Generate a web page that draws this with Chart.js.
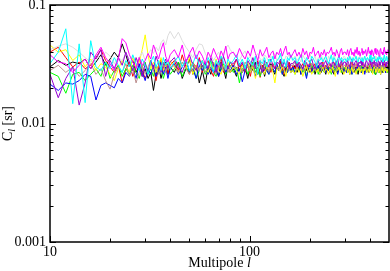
<!DOCTYPE html>
<html><head><meta charset="utf-8">
<script src="https://cdn.jsdelivr.net/npm/chart.js@4/dist/chart.umd.min.js"></script>
<style>html,body{margin:0;padding:0;background:#fff}#wrap{width:390px;height:271px}</style>
</head><body><div id="wrap"><canvas id="c" width="390" height="271"></canvas></div>
<script>
// Multipole l values (x categories)
const multipoles = [
  10,11,12,13,14,15,16,17,18,19,20,21,22,23,24,25,26,27,28,29,30,31,32,33,34,35,36,37,38,39,40,
  42,44,46,48,50,52,54,56,58,60,62,64,66,68,70,72,74,76,78,80,
  83,86,89,92,95,98,101,104,107,110,113,116,119,122,125,128,131,134,137,140,143,146,149,152,155,158,161,
  165,169,173,177,181,185,189,193,197,201,205,209,213,217,221,225,229,233,237,241,245,249,253,257,261,265,269,273,277,281,285,289,293,297,
  302,306,310,314,318,322,326,330,334,338,342,346,350,354,358,362,366,370,374,378,382,386,390,394,398,402,406,410,414,418,422,426,430,434,438,442,446,450,454,458,462,466,470,474,478,482,486,490,494,498
];
// C_l [sr] per series
const clBlack = [
  0.030,0.034,0.031,0.033,0.032,0.035,0.029,0.033,0.038,0.031,0.035,0.040,0.036,0.047,0.038,0.030,0.034,0.027,0.031,0.025,0.029,0.024,0.027,0.019,0.026,0.031,0.024,0.029,0.033,0.026,0.030,
  0.027,0.033,0.024,0.029,0.035,0.026,0.031,0.022,0.028,0.0215,0.030,0.026,0.032,0.028,0.025,0.033,0.029,0.024,0.031,0.027,
  0.029,0.025,0.032,0.027,0.030,0.024,0.031,0.028,0.033,0.026,0.029,0.031,0.025,0.030,0.027,0.032,0.028,0.026,0.030,0.029,0.033,0.027,0.025,0.030,0.028,0.031,0.027,
  0.028,0.031,0.027,0.030,0.026,0.029,0.032,0.028,0.030,0.027,0.029,0.031,0.026,0.029,0.028,0.031,0.027,0.030,0.028,0.026,0.030,0.029,0.027,0.031,0.028,0.026,0.029,0.030,0.027,0.029,0.031,0.028,0.026,0.029,
  0.029,0.027,0.030,0.028,0.026,0.029,0.031,0.028,0.027,0.030,0.028,0.029,0.026,0.030,0.028,0.027,0.029,0.031,0.028,0.027,0.029,0.028,0.030,0.027,0.028,0.030,0.028,0.027,0.029,0.031,0.028,0.026,0.029,0.028,0.030,0.027,0.029,0.028,0.026,0.030,0.029,0.027,0.028,0.030,0.029,0.027,0.028,0.029,0.031,0.028
];
const clRed = [
  0.040,0.044,0.036,0.030,0.033,0.029,0.031,0.036,0.042,0.034,0.030,0.027,0.031,0.022,0.029,0.033,0.025,0.030,0.036,0.028,0.024,0.027,0.033,0.029,0.023,0.030,0.035,0.028,0.032,0.026,0.031,
  0.034,0.028,0.038,0.030,0.026,0.033,0.029,0.036,0.027,0.031,0.034,0.028,0.025,0.032,0.030,0.036,0.027,0.031,0.029,0.033,
  0.030,0.035,0.028,0.032,0.027,0.031,0.025,0.033,0.029,0.034,0.0245,0.031,0.028,0.033,0.030,0.027,0.032,0.029,0.031,0.028,0.034,0.029,0.026,0.031,0.030,0.033,0.028,
  0.031,0.029,0.033,0.028,0.030,0.032,0.027,0.031,0.029,0.034,0.028,0.030,0.032,0.029,0.031,0.027,0.030,0.033,0.029,0.031,0.028,0.030,0.032,0.029,0.027,0.031,0.033,0.030,0.028,0.031,0.029,0.032,0.030,0.028,
  0.030,0.032,0.029,0.031,0.028,0.030,0.033,0.029,0.031,0.030,0.028,0.032,0.030,0.029,0.031,0.028,0.030,0.032,0.029,0.031,0.030,0.028,0.031,0.029,0.030,0.032,0.028,0.031,0.030,0.029,0.033,0.030,0.028,0.031,0.029,0.030,0.032,0.029,0.031,0.028,0.030,0.031,0.029,0.032,0.030,0.028,0.031,0.030,0.029,0.031
];
const clGreen = [
  0.027,0.025,0.018,0.026,0.027,0.023,0.026,0.029,0.025,0.033,0.024,0.028,0.031,0.025,0.029,0.026,0.031,0.027,0.024,0.030,0.033,0.026,0.029,0.025,0.031,0.027,0.030,0.024,0.028,0.032,0.026,
  0.029,0.033,0.025,0.030,0.027,0.032,0.024,0.028,0.031,0.026,0.029,0.034,0.027,0.025,0.030,0.028,0.032,0.026,0.029,0.031,
  0.027,0.030,0.022,0.029,0.031,0.026,0.029,0.033,0.027,0.030,0.025,0.029,0.032,0.028,0.026,0.030,0.029,0.027,0.031,0.028,0.032,0.026,0.029,0.031,0.027,0.030,0.028,
  0.029,0.026,0.030,0.028,0.031,0.027,0.029,0.025,0.030,0.028,0.032,0.027,0.029,0.030,0.026,0.029,0.031,0.028,0.027,0.030,0.029,0.028,0.030,0.026,0.031,0.028,0.029,0.027,0.030,0.032,0.028,0.027,0.029,0.030,
  0.028,0.030,0.027,0.029,0.031,0.028,0.026,0.029,0.030,0.028,0.029,0.027,0.030,0.029,0.028,0.031,0.027,0.029,0.028,0.030,0.029,0.027,0.029,0.028,0.030,0.031,0.028,0.027,0.029,0.030,0.028,0.026,0.029,0.031,0.028,0.029,0.027,0.030,0.028,0.029,0.031,0.028,0.027,0.030,0.029,0.028,0.030,0.027,0.029,0.028
];
const clBlue = [
  0.0215,0.019,0.022,0.0215,0.023,0.026,0.025,0.0158,0.021,0.022,0.021,0.020,0.024,0.022,0.027,0.025,0.029,0.024,0.032,0.027,0.023,0.029,0.026,0.031,0.025,0.028,0.033,0.026,0.030,0.024,0.029,
  0.032,0.026,0.030,0.035,0.027,0.029,0.024,0.031,0.028,0.033,0.026,0.030,0.027,0.032,0.025,0.029,0.031,0.027,0.030,0.028,
  0.031,0.026,0.029,0.0225,0.028,0.032,0.027,0.030,0.025,0.029,0.033,0.027,0.030,0.028,0.026,0.031,0.029,0.027,0.032,0.028,0.030,0.026,0.029,0.031,0.027,0.030,0.028,
  0.030,0.027,0.029,0.032,0.026,0.030,0.028,0.024,0.029,0.031,0.027,0.030,0.028,0.029,0.031,0.026,0.030,0.028,0.029,0.027,0.031,0.028,0.029,0.030,0.027,0.029,0.032,0.028,0.026,0.030,0.029,0.028,0.030,0.027,
  0.029,0.027,0.030,0.028,0.031,0.029,0.026,0.030,0.028,0.029,0.027,0.030,0.029,0.028,0.031,0.027,0.029,0.030,0.028,0.026,0.029,0.030,0.028,0.029,0.027,0.030,0.028,0.031,0.029,0.027,0.028,0.030,0.029,0.027,0.031,0.028,0.029,0.030,0.028,0.027,0.029,0.031,0.028,0.030,0.029,0.027,0.028,0.030,0.029,0.028
];
const clYellow = [
  0.046,0.040,0.042,0.034,0.038,0.030,0.035,0.028,0.032,0.030,0.026,0.023,0.029,0.034,0.031,0.027,0.036,0.030,0.033,0.042,0.056,0.038,0.029,0.033,0.027,0.031,0.036,0.028,0.032,0.029,0.034,
  0.030,0.027,0.033,0.029,0.036,0.026,0.031,0.028,0.034,0.030,0.027,0.032,0.029,0.035,0.028,0.026,0.031,0.029,0.033,0.027,
  0.030,0.028,0.026,0.031,0.029,0.033,0.027,0.030,0.024,0.029,0.032,0.028,0.026,0.030,0.028,0.031,0.027,0.022,0.029,0.030,0.027,0.031,0.028,0.025,0.030,0.029,0.027,
  0.028,0.026,0.030,0.027,0.029,0.025,0.028,0.031,0.027,0.029,0.026,0.028,0.030,0.027,0.029,0.026,0.028,0.030,0.027,0.029,0.028,0.026,0.029,0.027,0.030,0.028,0.025,0.029,0.028,0.030,0.027,0.029,0.028,0.026,
  0.028,0.030,0.027,0.029,0.026,0.028,0.030,0.027,0.029,0.028,0.026,0.029,0.028,0.030,0.027,0.029,0.028,0.026,0.029,0.028,0.030,0.027,0.028,0.029,0.027,0.030,0.028,0.029,0.026,0.028,0.030,0.029,0.027,0.028,0.030,0.027,0.029,0.028,0.026,0.029,0.030,0.028,0.027,0.029,0.028,0.030,0.027,0.028,0.029,0.027
];
const clBrown = [
  0.028,0.031,0.027,0.030,0.025,0.028,0.032,0.026,0.029,0.023,0.0195,0.026,0.030,0.027,0.032,0.025,0.029,0.022,0.027,0.031,0.026,0.030,0.034,0.028,0.031,0.026,0.030,0.033,0.027,0.031,0.029,
  0.031,0.027,0.033,0.029,0.026,0.032,0.030,0.028,0.034,0.027,0.031,0.029,0.033,0.026,0.030,0.032,0.028,0.031,0.027,0.030,
  0.032,0.029,0.031,0.027,0.033,0.030,0.028,0.032,0.029,0.031,0.034,0.028,0.030,0.032,0.027,0.031,0.029,0.033,0.030,0.028,0.031,0.033,0.029,0.030,0.032,0.028,0.031,
  0.031,0.033,0.029,0.032,0.030,0.028,0.031,0.033,0.030,0.029,0.032,0.030,0.028,0.031,0.033,0.030,0.029,0.032,0.031,0.029,0.030,0.032,0.031,0.029,0.033,0.030,0.031,0.028,0.032,0.030,0.031,0.033,0.029,0.031,
  0.031,0.030,0.032,0.029,0.031,0.033,0.030,0.031,0.029,0.032,0.030,0.031,0.033,0.030,0.029,0.031,0.032,0.030,0.031,0.029,0.032,0.030,0.031,0.030,0.032,0.031,0.029,0.032,0.030,0.031,0.033,0.030,0.031,0.029,0.032,0.031,0.030,0.032,0.029,0.031,0.030,0.032,0.031,0.029,0.031,0.033,0.030,0.031,0.032,0.030
];
const clGrey = [
  0.042,0.045,0.047,0.044,0.040,0.036,0.033,0.038,0.035,0.040,0.037,0.032,0.036,0.034,0.039,0.035,0.037,0.033,0.036,0.040,0.034,0.038,0.042,0.039,0.044,0.041,0.048,0.051,0.046,0.055,0.060,
  0.052,0.059,0.050,0.044,0.040,0.036,0.042,0.047,0.046,0.039,0.035,0.038,0.034,0.037,0.040,0.036,0.039,0.043,0.046,0.042,
  0.039,0.036,0.034,0.038,0.041,0.035,0.037,0.033,0.036,0.039,0.035,0.034,0.038,0.036,0.033,0.037,0.035,0.039,0.034,0.036,0.038,0.035,0.033,0.037,0.036,0.039,0.035,
  0.035,0.037,0.034,0.036,0.033,0.038,0.035,0.034,0.036,0.039,0.034,0.035,0.037,0.033,0.036,0.035,0.038,0.034,0.036,0.035,0.033,0.037,0.035,0.036,0.034,0.038,0.035,0.033,0.036,0.037,0.034,0.036,0.035,0.037,
  0.036,0.034,0.035,0.037,0.034,0.036,0.035,0.033,0.036,0.038,0.035,0.034,0.036,0.035,0.037,0.034,0.035,0.036,0.034,0.037,0.035,0.034,0.036,0.035,0.034,0.036,0.037,0.035,0.033,0.036,0.035,0.037,0.034,0.036,0.035,0.034,0.037,0.036,0.035,0.033,0.036,0.034,0.035,0.037,0.035,0.034,0.036,0.035,0.037,0.034
];
const clViolet = [
  0.026,0.0165,0.024,0.030,0.0143,0.022,0.040,0.035,0.042,0.025,0.034,0.029,0.036,0.031,0.040,0.033,0.028,0.036,0.030,0.025,0.032,0.027,0.034,0.029,0.037,0.032,0.027,0.031,0.035,0.029,0.033,
  0.036,0.030,0.027,0.033,0.038,0.031,0.028,0.035,0.030,0.033,0.029,0.036,0.031,0.027,0.034,0.030,0.037,0.032,0.029,0.033,
  0.032,0.035,0.030,0.033,0.028,0.034,0.031,0.036,0.029,0.033,0.031,0.027,0.034,0.032,0.030,0.035,0.031,0.029,0.033,0.032,0.035,0.030,0.033,0.031,0.034,0.029,0.032,
  0.032,0.034,0.030,0.033,0.031,0.029,0.034,0.032,0.030,0.033,0.035,0.031,0.029,0.032,0.034,0.031,0.033,0.030,0.032,0.034,0.031,0.033,0.032,0.030,0.034,0.032,0.031,0.033,0.035,0.030,0.032,0.034,0.031,0.033,
  0.033,0.031,0.034,0.032,0.030,0.033,0.035,0.032,0.031,0.033,0.034,0.032,0.030,0.033,0.032,0.034,0.031,0.033,0.032,0.030,0.033,0.034,0.032,0.031,0.033,0.035,0.032,0.030,0.033,0.032,0.034,0.031,0.033,0.032,0.030,0.034,0.033,0.031,0.032,0.034,0.033,0.031,0.032,0.034,0.032,0.030,0.033,0.032,0.034,0.031
];
const clCyan = [
  0.032,0.040,0.063,0.0147,0.047,0.015,0.050,0.030,0.028,0.033,0.029,0.036,0.031,0.027,0.034,0.030,0.038,0.032,0.028,0.035,0.031,0.026,0.033,0.037,0.030,0.034,0.028,0.036,0.031,0.034,0.029,
  0.033,0.037,0.030,0.035,0.028,0.032,0.038,0.031,0.034,0.029,0.036,0.032,0.027,0.034,0.031,0.037,0.033,0.029,0.035,0.032,
  0.034,0.038,0.031,0.035,0.029,0.036,0.033,0.031,0.037,0.026,0.034,0.032,0.036,0.030,0.035,0.033,0.037,0.031,0.034,0.035,0.039,0.032,0.035,0.030,0.036,0.034,0.038,
  0.034,0.036,0.032,0.035,0.038,0.033,0.031,0.036,0.034,0.032,0.037,0.035,0.033,0.030,0.035,0.034,0.036,0.033,0.035,0.037,0.034,0.032,0.035,0.038,0.033,0.036,0.034,0.031,0.035,0.037,0.034,0.036,0.033,0.035,
  0.035,0.033,0.036,0.034,0.037,0.035,0.033,0.036,0.034,0.035,0.037,0.034,0.033,0.036,0.035,0.034,0.036,0.033,0.035,0.037,0.034,0.035,0.036,0.034,0.035,0.038,0.034,0.033,0.036,0.035,0.037,0.034,0.035,0.033,0.036,0.034,0.037,0.035,0.034,0.036,0.035,0.033,0.036,0.038,0.034,0.035,0.037,0.034,0.036,0.035
];
const clMagenta = [
  0.038,0.033,0.032,0.027,0.031,0.035,0.029,0.038,0.044,0.036,0.032,0.028,0.035,0.052,0.048,0.038,0.033,0.029,0.036,0.031,0.034,0.039,0.035,0.046,0.040,0.035,0.042,0.048,0.037,0.033,0.038,
  0.042,0.036,0.046,0.033,0.039,0.044,0.035,0.041,0.037,0.032,0.040,0.036,0.043,0.038,0.034,0.041,0.037,0.045,0.035,0.039,
  0.040,0.036,0.043,0.038,0.035,0.041,0.037,0.046,0.039,0.034,0.042,0.037,0.040,0.044,0.036,0.039,0.041,0.035,0.040,0.038,0.043,0.037,0.041,0.045,0.038,0.040,0.036,
  0.039,0.042,0.037,0.040,0.036,0.043,0.038,0.041,0.035,0.040,0.039,0.044,0.037,0.039,0.041,0.036,0.040,0.038,0.042,0.037,0.040,0.039,0.041,0.044,0.038,0.040,0.037,0.042,0.039,0.036,0.041,0.043,0.038,0.040,
  0.040,0.038,0.042,0.037,0.041,0.043,0.038,0.040,0.037,0.042,0.039,0.044,0.038,0.041,0.037,0.040,0.043,0.038,0.041,0.039,0.042,0.037,0.040,0.044,0.039,0.041,0.038,0.042,0.040,0.037,0.041,0.043,0.039,0.038,0.042,0.040,0.037,0.041,0.043,0.039,0.040,0.038,0.042,0.044,0.039,0.041,0.038,0.040,0.042,0.039
];
// series in drawing order (first drawn underneath)
const seriesValues = [clBlack, clRed, clGreen, clBlue, clYellow, clBrown, clGrey, clViolet, clCyan, clMagenta];
const seriesColors = ['#000000','#ff0000','#00ff00','#0000ff','#ffff00','#bc8f8f','#dcdcdc','#9400d3','#00ffff','#ff00ff'];
// axis ticks
const xMajorTicks = [10, 100];
const xMinorTicks = [20,30,40,50,60,70,80,90,200,300,400];
const yMajorTicks = [0.001, 0.01, 0.1];
const yMinorTicks = [0.002,0.003,0.004,0.005,0.006,0.007,0.008,0.009,0.02,0.03,0.04,0.05,0.06,0.07,0.08,0.09];
const xTitle = ['Multipole ', 'l'];
const yTitle = ['C', 'l', ' [sr]'];

seriesValues.forEach((s, i) => { if (s.length !== multipoles.length) throw new Error('series ' + i + ' length ' + s.length + ' vs ' + multipoles.length); });

const FONT = "'Liberation Serif','Times New Roman',serif";

const frame = {
  id: 'frame',
  afterDatasetsDraw(chart) {
    const ctx = chart.ctx, a = chart.chartArea, xs = chart.scales.x, ys = chart.scales.y;
    ctx.save();
    ctx.strokeStyle = '#000';
    ctx.lineWidth = 1;
    ctx.beginPath();
    const tick = (v, len, isX) => {
      if (isX) {
        const p = Math.round(xs.getPixelForValue(v)) + 0.5;
        ctx.moveTo(p, a.bottom); ctx.lineTo(p, a.bottom - len);
        ctx.moveTo(p, a.top); ctx.lineTo(p, a.top + len);
      } else {
        const p = Math.round(ys.getPixelForValue(v)) + 0.5;
        ctx.moveTo(a.left, p); ctx.lineTo(a.left + len, p);
        ctx.moveTo(a.right, p); ctx.lineTo(a.right - len, p);
      }
    };
    xMajorTicks.forEach(v => tick(v, 6, true));
    xMinorTicks.forEach(v => tick(v, 3.5, true));
    yMajorTicks.forEach(v => tick(v, 6, false));
    yMinorTicks.forEach(v => tick(v, 3.5, false));
    ctx.stroke();
    ctx.lineWidth = 1.5;
    ctx.strokeRect(a.left, a.top, a.right - a.left, a.bottom - a.top);
    ctx.fillStyle = '#000';
    ctx.textBaseline = 'middle';
    ctx.textAlign = 'left';
    const fN = '14px ' + FONT, fI = 'italic 14px ' + FONT, fS = 'italic 10px ' + FONT;
    ctx.font = fN; const w1 = ctx.measureText(xTitle[0]).width;
    ctx.font = fI; const w2 = ctx.measureText(xTitle[1]).width;
    const x0 = (a.left + a.right) / 2 - (w1 + w2) / 2;
    ctx.font = fN; ctx.fillText(xTitle[0], x0, 263);
    ctx.font = fI; ctx.fillText(xTitle[1], x0 + w1, 263);
    ctx.save();
    ctx.translate(8, (a.top + a.bottom) / 2);
    ctx.rotate(-Math.PI / 2);
    ctx.font = fN; const c1 = ctx.measureText(yTitle[0]).width;
    ctx.font = fS; const c2 = ctx.measureText(yTitle[1]).width;
    ctx.font = fN; const c3 = ctx.measureText(yTitle[2]).width;
    const s = -(c1 + c2 + c3) / 2;
    ctx.font = fN; ctx.fillText(yTitle[0], s, 0);
    ctx.font = fS; ctx.fillText(yTitle[1], s + c1, 4);
    ctx.font = fN; ctx.fillText(yTitle[2], s + c1 + c2, 0);
    ctx.restore();
    ctx.restore();
  }
};

const datasets = seriesValues.map((vals, i) => ({
  data: multipoles.map((l, k) => ({ x: l, y: vals[k] })),
  borderColor: seriesColors[i],
  backgroundColor: seriesColors[i],
  borderWidth: 1,
  pointRadius: 0,
  tension: 0,
  fill: false,
  order: seriesValues.length - i
}));

new Chart(document.getElementById('c'), {
  type: 'line',
  data: { datasets },
  options: {
    responsive: false,
    animation: false,
    devicePixelRatio: 1,
    layout: { padding: { top: 5, right: 1, left: 0, bottom: 0 } },
    plugins: { legend: { display: false }, tooltip: { enabled: false } },
    scales: {
      x: {
        type: 'logarithmic', min: 10, max: 500, position: 'bottom',
        grid: { display: false, drawTicks: false },
        border: { display: false },
        afterBuildTicks: s => { s.ticks = xMajorTicks.map(v => ({ value: v })); },
        afterFit: s => { s.height = 29; s.paddingLeft = 0; s.paddingRight = 0; },
        ticks: { autoSkip: false, maxRotation: 0, padding: 2, color: '#000', font: { family: FONT, size: 14 }, callback: v => String(v) }
      },
      y: {
        type: 'logarithmic', min: 0.001, max: 0.1, position: 'left',
        grid: { display: false, drawTicks: false },
        border: { display: false },
        afterBuildTicks: s => { s.ticks = yMajorTicks.map(v => ({ value: v })); },
        afterFit: s => { s.width = 50; s.paddingTop = 0; s.paddingBottom = 0; },
        ticks: { autoSkip: false, padding: 4, color: '#000', font: { family: FONT, size: 14 }, callback: v => String(v) }
      }
    }
  },
  plugins: [frame]
});
</script></body></html>
